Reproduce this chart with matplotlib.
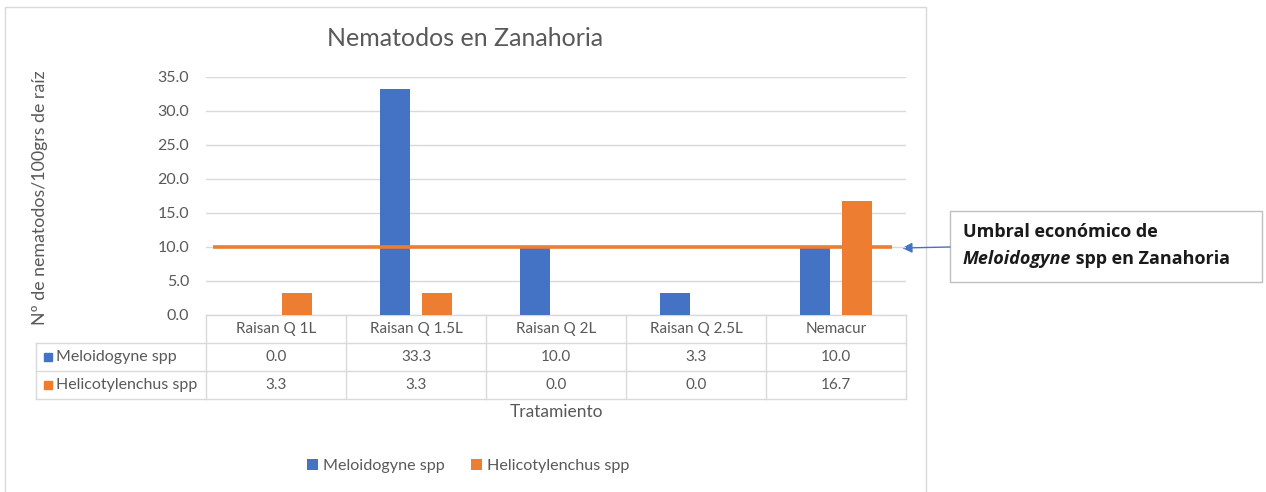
import matplotlib
matplotlib.use("Agg")
import matplotlib.pyplot as plt
from matplotlib.patches import Rectangle
from matplotlib.transforms import blended_transform_factory

# data
tratamientos = ["Raisan Q 1L", "Raisan Q 1.5L", "Raisan Q 2L", "Raisan Q 2.5L", "Nemacur"]
meloidogyne = [0.0, 33.3, 10.0, 3.3, 10.0]
helicotylenchus = [3.3, 3.3, 0.0, 0.0, 16.7]
series_names = ["Meloidogyne spp", "Helicotylenchus spp"]
umbral = 10.0
y_ticks = [0, 5, 10, 15, 20, 25, 30, 35]

BLUE = "#4472C4"
ORANGE = "#ED7D31"
GRID = "#d9d9d9"
TXT = "#595959"
W, H = 1266, 492

plt.rcParams["font.family"] = ["Lato", "DejaVu Sans"]

fig = plt.figure(figsize=(W / 100, H / 100), dpi=100)

# overlay in pixel coordinates for frame, table and callout
ov = fig.add_axes([0, 0, 1, 1])
ov.set_xlim(0, W)
ov.set_ylim(H, 0)
ov.axis("off")

ax = fig.add_axes([206 / W, (H - 315) / H, 700 / W, 238 / H])
x = list(range(len(tratamientos)))
bw = 0.22
ax.bar([i - 0.15 for i in x], meloidogyne, bw, color=BLUE, label=series_names[0], zorder=3)
ax.bar([i + 0.15 for i in x], helicotylenchus, bw, color=ORANGE, label=series_names[1], zorder=3)
ax.plot([-0.45, 4.4], [umbral, umbral], color=ORANGE, lw=2.6, zorder=4, solid_capstyle="butt")
ax.set_xlim(-0.5, 4.5)
ax.set_ylim(0, 35)
ax.set_yticks(y_ticks)
ax.set_yticklabels([f"{v:.1f}" for v in y_ticks], color=TXT, fontsize=11.5)
ax.tick_params(axis="y", length=0, pad=12)
ax.set_xticks([])
ax.grid(axis="y", color=GRID, lw=1, zorder=0)
for s in ax.spines.values():
    s.set_visible(False)
ax.patch.set_alpha(0)

# chart frame
ov.add_patch(Rectangle((5, 7), 921, 500, fill=False, ec=GRID, lw=1))

fig.text(465 / W, (H - 38) / H, "Nematodos en Zanahoria", ha="center", va="center",
         fontsize=18, color=TXT)
fig.text(40 / W, (H - 198) / H, "Nº de nematodos/100grs de raíz", rotation=90,
         ha="center", va="center", fontsize=12.8, color=TXT)

# data table under the axis
tr = blended_transform_factory(ax.transData, ov.transData)
tl = dict(color=GRID, lw=1)
ov.plot([206, 906], [315, 315], **tl)
for yy in (343, 371, 399):
    ov.plot([36, 906], [yy, yy], **tl)
for i in range(len(tratamientos) + 1):
    xx = 206 + 140 * i
    ov.plot([xx, xx], [315, 399], **tl)
ov.plot([36, 36], [343, 399], **tl)
for i, t in enumerate(tratamientos):
    ax.text(i, 329, t, transform=tr, ha="center", va="center", fontsize=11, color=TXT)
    ax.text(i, 357, f"{meloidogyne[i]:.1f}", transform=tr, ha="center", va="center",
            fontsize=11, color=TXT)
    ax.text(i, 385, f"{helicotylenchus[i]:.1f}", transform=tr, ha="center", va="center",
            fontsize=11, color=TXT)
for yy, name, c in ((357, series_names[0], BLUE), (385, series_names[1], ORANGE)):
    ov.add_patch(Rectangle((44, yy - 4), 8, 8, color=c))
    ov.text(56, yy, name, ha="left", va="center", fontsize=11.5, color=TXT)

fig.text(556 / W, (H - 412) / H, "Tratamiento", ha="center", va="center",
         fontsize=12.5, color=TXT)

fig.legend(loc="center", bbox_to_anchor=(468 / W, (H - 466) / H), ncol=2, frameon=False,
           handlelength=0.7, handleheight=0.7, handletextpad=0.3, columnspacing=1.6,
           fontsize=11.6, labelcolor=TXT)

# threshold callout
ov.add_patch(Rectangle((950, 211), 312, 71, fill=False, ec="#bfbfbf", lw=1))
ov.annotate("", xy=(902, 248), xytext=(950, 247),
            arrowprops=dict(arrowstyle="-|>", color=BLUE, lw=1, mutation_scale=15,
                            shrinkA=0, shrinkB=0))
bf = dict(fontsize=13, fontweight="bold", color="#1a1a1a", family=["Open Sans", "DejaVu Sans"],
          va="center", ha="left")
ov.text(963, 232, "Umbral económico de", **bf)
t1 = ov.text(963, 259, "Meloidogyne", style="italic", **bf)
fig.canvas.draw()
bb = t1.get_window_extent().transformed(ov.transData.inverted())
ov.text(bb.x1, 259, " spp en Zanahoria", **bf)

fig.savefig("out.png", dpi=100)
